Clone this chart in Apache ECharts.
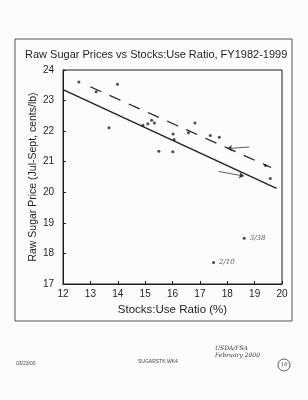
<!DOCTYPE html>
<html>
<head>
<meta charset="utf-8">
<script src="https://cdn.jsdelivr.net/npm/echarts@6/dist/echarts.min.js"></script>
<style>
  html, body { margin: 0; padding: 0; background: #fcfcfb; }
  #chart { width: 308px; height: 400px; }
</style>
</head>
<body>
<div id="chart"></div>
<script>
// stocks:use ratio (%) and raw sugar price (cents/lb), FY1982-1999
var stocksUse = [12.58, 13.21, 13.99, 13.68, 14.92, 15.10, 15.24, 15.34, 16.82, 16.02,
                 16.58, 17.38, 17.71, 16.06, 15.50, 16.01, 19.40, 19.57];
var rawPrice  = [23.61, 23.29, 23.53, 22.11, 22.19, 22.24, 22.36, 22.27, 22.27, 21.91,
                 21.95, 21.86, 21.80, 21.73, 21.34, 21.33, 20.88, 20.45];

// extra points marked by hand
var noteNames = ['2/10', '3/38'];
var noteX = [17.50, 18.62];
var noteY = [17.70, 18.50];

// fitted lines
var fitAllX = [12.0, 19.8];
var fitAllY = [23.36, 20.13];
var fit80sX = [13.0, 19.6];
var fit80sY = [23.45, 20.81];

var xTicks = [12, 20];
var yTicks = [17, 24];

var chart = echarts.init(document.getElementById('chart'));

var pts = stocksUse.map(function (v, i) { return [v, rawPrice[i]]; });
var notes = noteX.map(function (v, i) { return { name: noteNames[i], value: [v, noteY[i]] }; });
var lineAll = fitAllX.map(function (v, i) { return [v, fitAllY[i]]; });
var line80s = fit80sX.map(function (v, i) { return [v, fit80sY[i]]; });

var ink = '#1e1e1e';
var hand = { fontFamily: 'DejaVu Serif', fontStyle: 'italic', fontSize: 7, color: '#333' };

chart.setOption({
  animation: false,
  backgroundColor: '#fcfcfb',
  title: {
    text: 'Raw Sugar Prices vs Stocks:Use Ratio, FY1982-1999',
    left: 20,
    top: 44,
    textStyle: { fontFamily: 'Liberation Sans', fontWeight: 'normal', fontSize: 11, color: ink }
  },
  grid: {
    left: 63, top: 70, width: 219, height: 214,
    show: true, borderColor: ink, borderWidth: 1
  },
  xAxis: {
    type: 'value',
    min: xTicks[0], max: xTicks[1], interval: 1,
    name: 'Stocks:Use Ratio (%)',
    nameLocation: 'middle',
    nameGap: 17,
    nameTextStyle: { fontFamily: 'Liberation Sans', fontSize: 11.5, color: ink },
    axisLine: { lineStyle: { color: ink } },
    axisTick: { inside: true, length: 3, lineStyle: { color: ink } },
    axisLabel: { fontFamily: 'Liberation Sans', fontSize: 10, color: ink, margin: 5 },
    splitLine: { show: false }
  },
  yAxis: {
    type: 'value',
    min: yTicks[0], max: yTicks[1], interval: 1,
    name: 'Raw Sugar Price (Jul-Sept, cents/lb)',
    nameLocation: 'middle',
    nameGap: 24,
    nameMoveOverlap: false,
    nameTextStyle: { fontFamily: 'Liberation Sans', fontSize: 10.5, color: ink },
    axisLine: { lineStyle: { color: ink } },
    axisTick: { inside: true, length: 3, lineStyle: { color: ink } },
    axisLabel: { fontFamily: 'Liberation Sans', fontSize: 10, color: ink, margin: 9 },
    splitLine: { show: false }
  },
  series: [
    {
      type: 'line',
      data: lineAll,
      symbol: 'none',
      lineStyle: { color: ink, width: 1.3 },
      markLine: {
        silent: true,
        symbol: ['none', 'arrow'],
        symbolSize: 5,
        lineStyle: { color: '#333', width: 0.8, type: 'solid' },
        label: { show: false },
        data: [[{ coord: [17.69, 20.68] }, { coord: [18.61, 20.53] }]]
      },
      markPoint: {
        silent: true,
        symbol: 'none',
        label: Object.assign({ show: true, position: 'left', formatter: '{b}' }, hand),
        data: [{ name: '1995', coord: [17.62, 20.70] }]
      }
    },
    {
      type: 'line',
      data: line80s,
      symbol: 'none',
      lineStyle: { color: ink, width: 1.2, type: [12, 9] },
      markLine: {
        silent: true,
        symbol: ['none', 'arrow'],
        symbolSize: 5,
        lineStyle: { color: '#333', width: 0.8, type: 'solid' },
        label: { show: false },
        data: [[{ coord: [18.80, 21.48] }, { coord: [18.00, 21.43] }]]
      },
      markPoint: {
        silent: true,
        symbol: 'none',
        label: Object.assign({ show: true, position: 'right', formatter: '{b}' }, hand),
        data: [{ name: "1980's", coord: [18.84, 21.50] }]
      }
    },
    {
      type: 'scatter',
      data: pts,
      symbolSize: 3,
      itemStyle: { color: ink }
    },
    {
      type: 'scatter',
      data: notes,
      symbolSize: 3,
      itemStyle: { color: ink },
      label: Object.assign({ show: true, position: 'right', distance: 4, formatter: '{b}' }, hand)
    }
  ],
  graphic: [
    {
      type: 'rect', silent: true, z: -1,
      shape: { x: 15, y: 39, width: 277, height: 282 },
      style: { fill: 'none', stroke: '#555', lineWidth: 1 }
    },
    { type: 'text', left: 16, top: 361, style: { text: '03/23/00', fontSize: 5, fill: '#444', fontFamily: 'Liberation Sans' } },
    { type: 'text', left: 138, top: 359, style: { text: 'SUGARSTK.WK4', fontSize: 5, fill: '#444', fontFamily: 'Liberation Sans' } },
    { type: 'text', left: 215, top: 345, style: { text: 'USDA/FSA', fontSize: 6, fill: '#333', fontFamily: 'DejaVu Serif', fontStyle: 'italic' } },
    { type: 'text', left: 215, top: 352, style: { text: 'February 2000', fontSize: 6, fill: '#333', fontFamily: 'DejaVu Serif', fontStyle: 'italic' } },
    { type: 'circle', shape: { cx: 284, cy: 365, r: 6 }, style: { fill: 'none', stroke: '#333', lineWidth: 0.8 } },
    { type: 'text', left: 281, top: 362, style: { text: '10', fontSize: 5, fill: '#333', fontFamily: 'DejaVu Serif', fontStyle: 'italic' } }
  ]
});
</script>
</body>
</html>
